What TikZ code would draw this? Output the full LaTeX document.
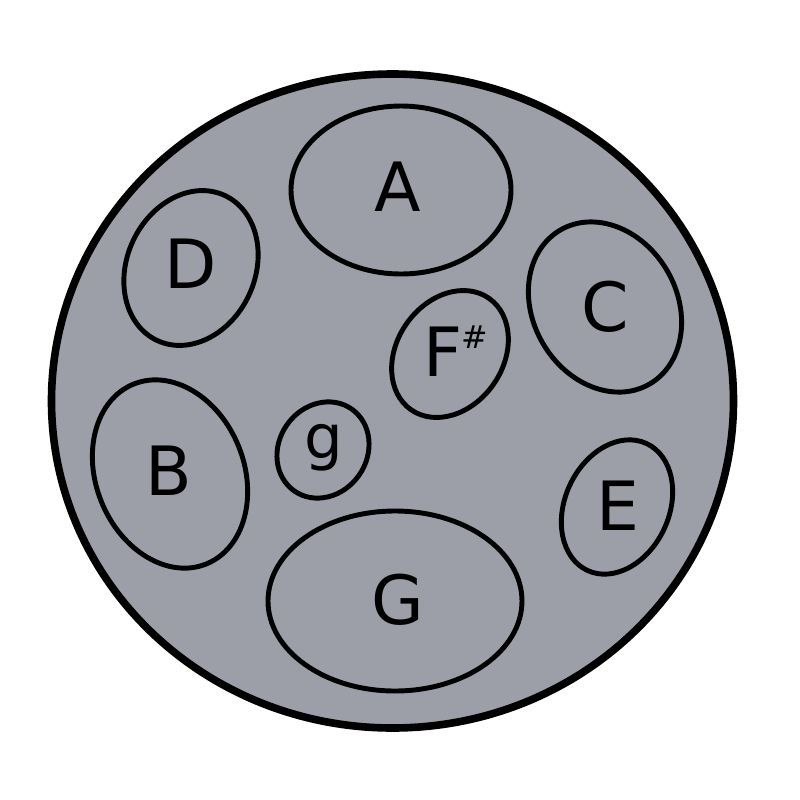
\documentclass[tikz,border=0pt]{standalone}
\usepackage{fontspec}
\setmainfont{DejaVu Sans}
\definecolor{pangrey}{RGB}{156,159,167}

\begin{document}
\begin{tikzpicture}[x=0.03cm,y=-0.03cm]
    \tikzstyle{shell}=[draw=black,fill=pangrey,line width=6.5pt]
    \tikzstyle{pad}=[draw=black,line width=4.2pt]
    \tikzstyle{note}=[inner sep=0pt,font=\fontsize{58}{58}\selectfont]
    \tikzstyle{small note}=[note,font=\fontsize{52}{52}\selectfont]
    \tikzstyle{sharp}=[inner sep=0pt,font=\fontsize{27}{27}\selectfont]

    \useasboundingbox (0,0) rectangle (800,800);

    % Draw the drum body
    \draw[shell] (392.5,401) ellipse [x radius=341, y radius=327];

    % Draw the tone fields
    \foreach \px / \py / \hr / \vr / \tilt in {401/190/110/84/0, 191/268/64/80/-25,
        605/307/72/89/30, 170/474/74/97/22, 617/507/52/70/-25,
        395/601/127/90/0, 450/354/53/68/-35, 323/450/44/50/-35}
        \draw[pad] (\px,\py) ellipse [x radius=\hr, y radius=\vr, rotate=\tilt];

    % Label the tone fields
    \foreach \name / \px / \py in {A/398/187, D/191/264, C/605/307, B/169/471, E/618/506, G/398/600}
        \node[note] (\name) at (\px,\py) {\name};
    \node[note] (F) at (443,352) {F};
    \node[sharp] (sharp) at (475,337) {\#};
    \node[small note] (g) at (324,448) {g};
\end{tikzpicture}
\end{document}
